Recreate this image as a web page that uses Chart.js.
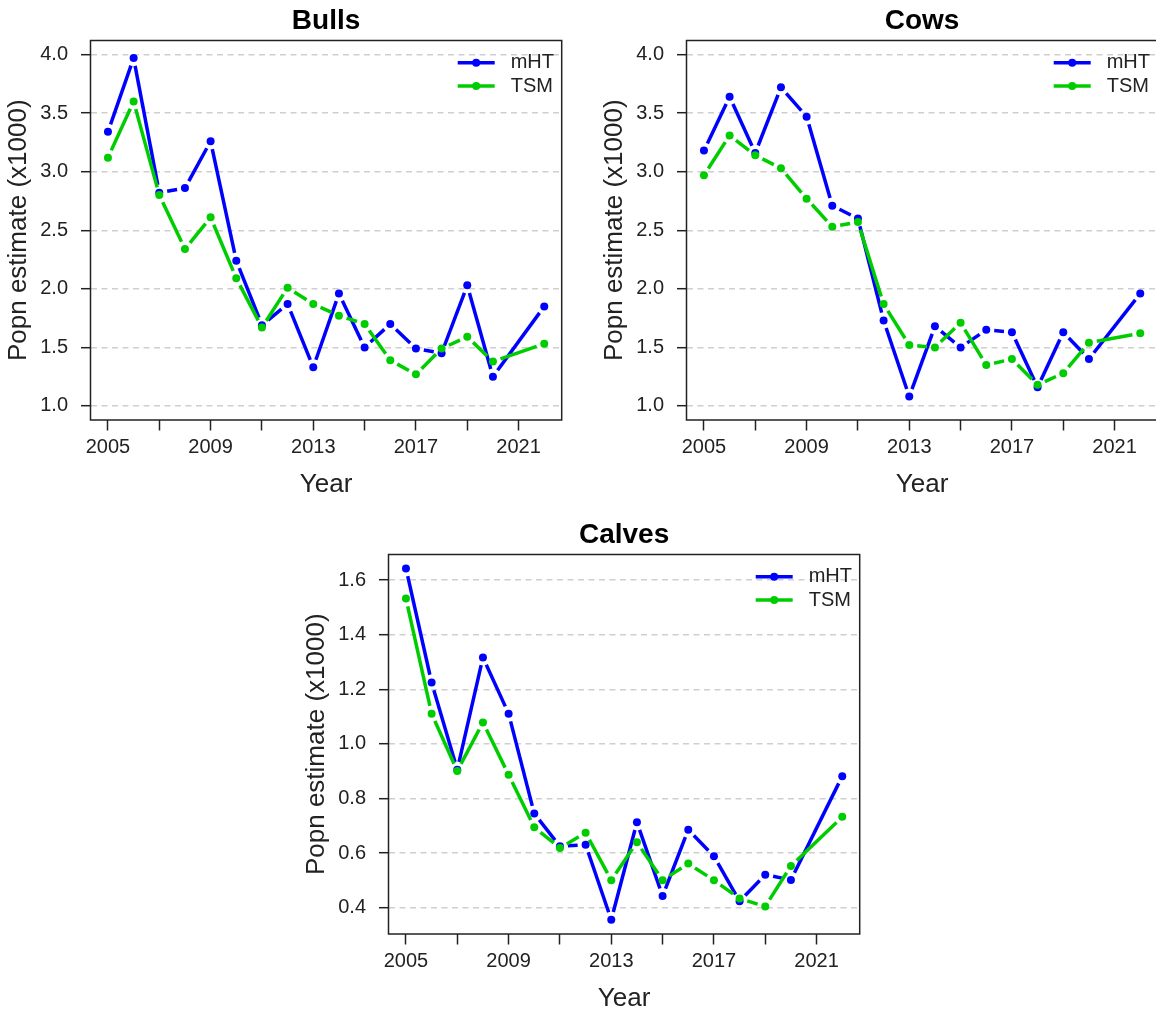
<!DOCTYPE html>
<html>
<head>
<meta charset="utf-8">
<script src="https://cdn.jsdelivr.net/npm/chart.js@4/dist/chart.umd.min.js"></script>
<style>
  html, body { margin: 0; padding: 0; width: 1156px; height: 1011px; overflow: hidden; background: #fff; }
  canvas { position: absolute; }
</style>
</head>
<body>
<canvas id="bulls" width="578" height="510" style="left:0px;top:0px"></canvas>
<canvas id="cows" width="578" height="510" style="left:596px;top:0px"></canvas>
<canvas id="calves" width="578" height="510" style="left:298px;top:514px"></canvas>
<script>
// Survey years (no survey in 2021)
const years = [2005, 2006, 2007, 2008, 2009, 2010, 2011, 2012, 2013, 2014, 2015, 2016, 2017, 2018, 2019, 2020, 2022];

// Population estimates (x1000)
const bullsMHT = [3.34, 3.97, 2.82, 2.86, 3.26, 2.24, 1.69, 1.87, 1.33, 1.96, 1.50, 1.70, 1.49, 1.45, 2.03, 1.25, 1.85];
const bullsTSM = [3.12, 3.60, 2.80, 2.34, 2.61, 2.09, 1.67, 2.01, 1.87, 1.77, 1.70, 1.39, 1.27, 1.49, 1.59, 1.38, 1.53];
const cowsMHT  = [3.18, 3.64, 3.16, 3.72, 3.47, 2.71, 2.60, 1.73, 1.08, 1.68, 1.50, 1.65, 1.63, 1.16, 1.63, 1.40, 1.96];
const cowsTSM  = [2.97, 3.31, 3.14, 3.03, 2.77, 2.53, 2.57, 1.87, 1.52, 1.50, 1.71, 1.35, 1.40, 1.18, 1.28, 1.54, 1.62];
const calvesMHT = [1.643, 1.225, 0.906, 1.317, 1.111, 0.745, 0.625, 0.631, 0.356, 0.713, 0.443, 0.686, 0.589, 0.424, 0.521, 0.502, 0.882];
const calvesTSM = [1.533, 1.111, 0.901, 1.079, 0.887, 0.695, 0.619, 0.675, 0.501, 0.640, 0.501, 0.562, 0.501, 0.434, 0.405, 0.553, 0.733];

// Axis ticks
const xTickYears = [2005, 2007, 2009, 2011, 2013, 2015, 2017, 2019, 2021];
const xLabelYears = [2005, 2009, 2013, 2017, 2021];
const adultTicks = [1.0, 1.5, 2.0, 2.5, 3.0, 3.5, 4.0];
const calfTicks = [0.4, 0.6, 0.8, 1.0, 1.2, 1.4, 1.6];

const seriesNames = ['mHT', 'TSM'];
const seriesColors = ['#0000FF', '#00CD00'];

const FONT = "'Liberation Sans', Arial, Helvetica, sans-serif";
const INK = '#222222';
Chart.defaults.font.family = FONT;
Chart.defaults.color = INK;

// Each connecting line stops short of the points at both ends
const GAP = 8;
function gapDash(ctx) {
  const xs = ctx.chart.scales.x, ys = ctx.chart.scales.y;
  const a = ctx.p0.parsed, b = ctx.p1.parsed;
  const dx = xs.getPixelForValue(b.x) - xs.getPixelForValue(a.x);
  const dy = ys.getPixelForValue(b.y) - ys.getPixelForValue(a.y);
  const len = Math.hypot(dx, dy);
  if (!isFinite(len)) return [];
  if (len <= 2 * GAP) return [0, len + 1];
  return [0, GAP, len - 2 * GAP, GAP];
}

// Frame around the plotting region
const framePlugin = {
  id: 'frame',
  afterDraw(chart) {
    const { ctx, chartArea: a } = chart;
    ctx.save();
    ctx.strokeStyle = INK;
    ctx.lineWidth = 1.5;
    ctx.strokeRect(a.left, a.top, a.right - a.left, a.bottom - a.top);
    ctx.restore();
  }
};

// Key in the upper-right corner of the plotting region
const keyPlugin = {
  id: 'key',
  afterDraw(chart) {
    const { ctx, chartArea: a } = chart;
    ctx.save();
    chart.data.datasets.forEach((ds, i) => {
      const y = a.top + 22.3 + i * 23.3;
      const x0 = a.right - 104, x1 = a.right - 67;
      ctx.strokeStyle = ds.borderColor;
      ctx.lineWidth = 3.5;
      ctx.lineCap = 'butt';
      ctx.beginPath(); ctx.moveTo(x0, y); ctx.lineTo(x1, y); ctx.stroke();
      ctx.fillStyle = ds.borderColor;
      ctx.beginPath(); ctx.arc((x0 + x1) / 2, y, 4, 0, Math.PI * 2); ctx.fill();
      ctx.fillStyle = INK;
      ctx.font = '20px ' + FONT;
      ctx.textAlign = 'left';
      ctx.textBaseline = 'middle';
      ctx.fillText(ds.label, a.right - 51, y);
    });
    ctx.restore();
  }
};

function makeChart(id, title, series, yTicks, yMin, yMax) {
  const datasets = series.map((vals, i) => ({
    label: seriesNames[i],
    data: years.map((yr, j) => ({ x: yr, y: vals[j] })),
    borderColor: seriesColors[i],
    backgroundColor: seriesColors[i],
    borderWidth: 3.5,
    borderCapStyle: 'butt',
    pointRadius: 4,
    pointBorderWidth: 0,
    pointBackgroundColor: seriesColors[i],
    tension: 0,
    order: series.length - i,
    segment: { borderDash: gapDash }
  }));

  return new Chart(document.getElementById(id), {
    type: 'line',
    data: { datasets },
    options: {
      responsive: false,
      animation: false,
      devicePixelRatio: 1,
      layout: { padding: { left: 0, right: 16.3, top: 0, bottom: 0 } },
      plugins: {
        legend: { display: false },
        tooltip: { enabled: false },
        title: {
          display: true,
          text: title,
          color: '#000',
          fullSize: false,
          font: { size: 28, weight: 'bold', family: FONT },
          padding: { top: 4, bottom: 2.9 }
        }
      },
      scales: {
        x: {
          type: 'linear',
          min: 2004.32,
          max: 2022.68,
          afterBuildTicks: s => { s.ticks = xTickYears.map(v => ({ value: v })); },
          afterFit: s => { s.height = 90; },
          ticks: {
            autoSkip: false,
            maxRotation: 0,
            padding: 5.3,
            font: { size: 20 },
            color: INK,
            callback: v => (xLabelYears.includes(v) ? String(v) : '')
          },
          grid: {
            drawOnChartArea: false,
            drawTicks: true,
            tickLength: 10.5,
            tickColor: INK,
            tickWidth: 1.5
          },
          border: { display: false },
          title: {
            display: true,
            text: 'Year',
            font: { size: 26 },
            color: INK,
            padding: { top: 0, bottom: 9.5 }
          }
        },
        y: {
          type: 'linear',
          min: yMin,
          max: yMax,
          afterBuildTicks: s => { s.ticks = yTicks.map(v => ({ value: v })); },
          afterFit: s => { s.width = 90.5; },
          ticks: {
            padding: 13,
            font: { size: 20 },
            color: INK,
            callback: v => Number(v).toFixed(1)
          },
          grid: {
            drawOnChartArea: true,
            drawTicks: true,
            color: '#cfcfcf',
            lineWidth: 1.4,
            tickLength: 9.5,
            tickColor: INK,
            tickWidth: 1.5,
            tickBorderDash: []
          },
          border: { display: false, dash: [6, 4.5] },
          title: {
            display: true,
            text: 'Popn estimate (x1000)',
            font: { size: 26 },
            color: INK,
            padding: { top: 3, bottom: 0 }
          }
        }
      }
    },
    plugins: [framePlugin, keyPlugin]
  });
}

makeChart('bulls', 'Bulls', [bullsMHT, bullsTSM], adultTicks, 0.88, 4.12);
makeChart('cows', 'Cows', [cowsMHT, cowsTSM], adultTicks, 0.88, 4.12);
makeChart('calves', 'Calves', [calvesMHT, calvesTSM], calfTicks, 0.304, 1.694);
</script>
</body>
</html>
